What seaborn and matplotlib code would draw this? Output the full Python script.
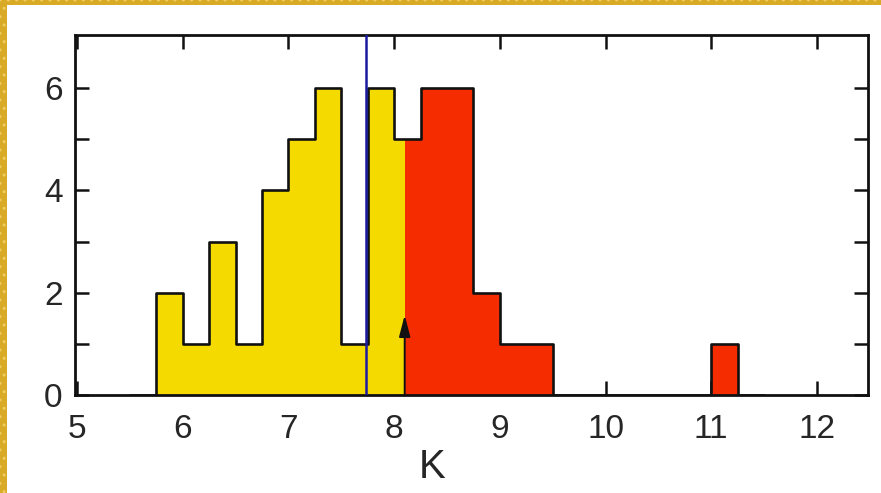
import numpy as np
import pandas as pd
import matplotlib
matplotlib.use("Agg")
import matplotlib.pyplot as plt
from matplotlib.patches import Rectangle
import seaborn as sns

# Histogram of K magnitudes, bins of 0.25 mag
bin_edges = np.arange(5.5, 11.51, 0.25)
counts = [0, 2, 1, 3, 1, 4, 5, 6, 1, 6, 5, 6, 6, 2, 1, 1, 0, 0, 0, 0, 0, 0, 1, 0]
split_k = 8.1        # bright (yellow) / faint (red) division
marker_k = 7.73      # vertical reference line
arrow_k = 8.1
arrow_top = 1.56

x_ticks = [5, 6, 7, 8, 9, 10, 11, 12]
y_ticks = [0, 2, 4, 6]

yellow = "#F5DA00"
red = "#F52C00"
blue = "#1B1BA0"

centers = (bin_edges[:-1] + bin_edges[1:]) / 2
df = pd.DataFrame({"K": centers, "n": counts})

# split bins at the colour boundary
bright_edges = np.append(bin_edges[bin_edges < split_k], split_k)
faint_edges = np.insert(bin_edges[bin_edges > split_k], 0, split_k)


def sub_hist(edges):
    c = (edges[:-1] + edges[1:]) / 2
    idx = np.searchsorted(bin_edges, c) - 1
    return pd.DataFrame({"K": c, "n": np.asarray(counts)[idx]})


bright = sub_hist(bright_edges)
faint = sub_hist(faint_edges)

sns.set_style("ticks")
plt.rcParams["font.family"] = ["Liberation Sans", "DejaVu Sans"]

fig = plt.figure(figsize=(8.81, 4.93), dpi=100)
ax = fig.add_axes([75 / 881, 1 - 395 / 493, (868 - 75) / 881, (395 - 35) / 493])

sns.histplot(data=bright, x="K", weights="n", bins=list(bright_edges), element="step",
             fill=True, color=yellow, alpha=1, linewidth=0, ax=ax)
sns.histplot(data=faint, x="K", weights="n", bins=list(faint_edges), element="step",
             fill=True, color=red, alpha=1, linewidth=0, ax=ax)
sns.histplot(data=df, x="K", weights="n", bins=list(bin_edges), element="step",
             fill=False, color="#111111", linewidth=1.9, ax=ax)

ax.axvline(marker_k, color=blue, linewidth=1.8, zorder=5)
ax.annotate("", xy=(arrow_k, arrow_top), xytext=(arrow_k, 0),
            arrowprops=dict(arrowstyle="-|>,head_length=0.65,head_width=0.17",
                            mutation_scale=20, color="#111111", lw=1.4,
                            shrinkA=0, shrinkB=0), zorder=6)

ax.set_xlim(4.981, 12.483)
ax.set_ylim(0, 7.036)
ax.set_xticks(x_ticks)
ax.set_yticks(y_ticks)
ax.set_yticks([1, 3, 5], minor=True)
ax.set_xticklabels([str(t) for t in x_ticks])
ax.set_yticklabels([str(t) for t in y_ticks])

for s in ax.spines.values():
    s.set_linewidth(2.0)
    s.set_color("#111111")
    s.set_visible(True)
ax.tick_params(which="both", direction="in", top=True, right=True, length=10,
               width=1.8, color="#111111", labelsize=24)
ax.tick_params(axis="x", pad=14)
ax.tick_params(axis="y", pad=9)

ax.set_ylabel("")
ax.set_xlabel("K", fontsize=29)
ax.xaxis.label.set_va("center")
ax.xaxis.set_label_coords((432 - 75) / 793, (395 - 467) / 360)

# gold frame strips
frame = "#D9AA25"
fig.patches.append(Rectangle((0, 1 - 5 / 493), 1, 5 / 493, transform=fig.transFigure,
                             facecolor=frame, edgecolor="#F0CC60", hatch="..",
                             linewidth=0, zorder=10))
fig.patches.append(Rectangle((0, 0), 7 / 881, 1, transform=fig.transFigure,
                             facecolor=frame, edgecolor="#F0CC60", hatch="..",
                             linewidth=0, zorder=10))

fig.savefig("out.png", dpi=100)
